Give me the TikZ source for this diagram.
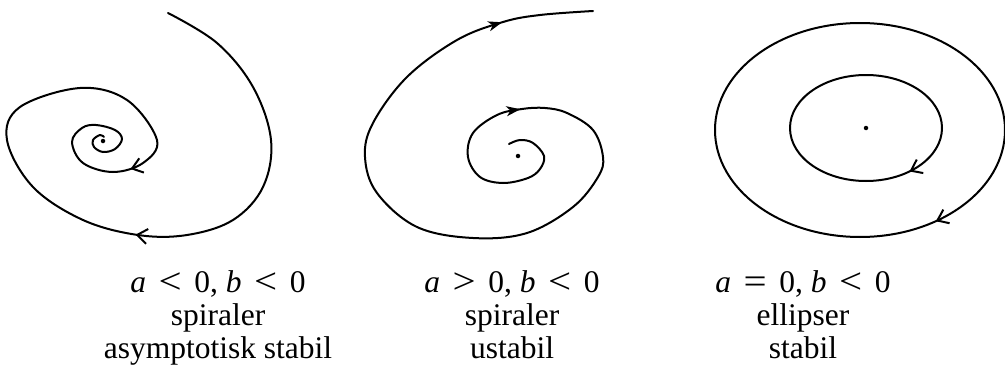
\documentclass[tikz,border=0pt]{standalone}
\usepackage{fontspec}
\setmainfont{Liberation Serif}
\usetikzlibrary{arrows.meta,decorations.markings}
\tikzset{
  orbit/.style={line width=2pt, line cap=round, line join=round},
  dotnode/.style={circle, fill, inner sep=0pt, minimum size=4.5pt},
  caption/.style={align=center, anchor=north, inner sep=0pt, font=\fontsize{31.5}{33}\selectfont},
  barb/.tip={Straight Barb[length=10pt,width=15pt]},
  solid tip/.tip={Stealth[length=14pt,width=10pt,inset=4pt]},
  twomarks/.style n args={3}{postaction={decorate}, decoration={markings,
      mark=at position #1 with {\arrow{#3}},
      mark=at position #2 with {\arrow{#3}}}},
  onemark/.style 2 args={postaction={decorate}, decoration={markings,
      mark=at position #1 with {\arrow{#2}}}}
}
\newcommand{\relsym}[1]{\hspace{.4em}\raisebox{-.03em}{\scalebox{1.3}[1.15]{#1}}\hspace{.4em}}
\newcommand{\cond}[2]{\textit{a}\relsym{#1}0, \textit{b}\relsym{#2}0}

\begin{document}
\begin{tikzpicture}[x=1pt, y=-1pt]
  \useasboundingbox (0,0) rectangle (1005,372);
  \node[dotnode] (o1) at (103,141) {};
  \node[dotnode] (o2) at (518,156) {};
  \node[dotnode] (o3) at (866,128) {};
  \draw[orbit, twomarks={.375}{.8}{barb}] plot[smooth, tension=.6] coordinates {
    (168,13) (217,43) (253,87) (271,140) (263,187) (233,220) (187,235) (138,235)
    (83,220) (33,187) (7,140) (20,107) (80,88) (127,100) (157,140) (143,163)
    (113,172) (83,163) (72,142) (82,128) (96,125) (115,130) (122,139) (115,149)
    (103,152) (94,147) (93,140) (100,135) (104,137)};
  \draw[orbit, twomarks={.238}{.903}{solid tip}] plot[smooth, tension=.6] coordinates {
    (509,144) (520,140) (533,143) (544,156) (540,169) (528,178) (503,183) (480,177)
    (468,157) (473,133) (497,115) (522,109) (545,108) (567,113) (593,130) (603,157)
    (598,177) (573,207) (527,233) (473,238) (417,227) (377,193) (365,157) (373,123)
    (407,77) (457,40) (503,22) (540,15) (593,11)};
  \draw[orbit, onemark={.14}{barb}] (o3.center) ellipse [x radius=76, y radius=53];
  \draw[orbit, onemark={.152}{barb}] (860,130) ellipse [x radius=145, y radius=107];
  \node[caption] (t1) at (218,270) {\cond{<}{<}\\ spiraler\\ asymptotisk stabil};
  \node[caption] (t2) at (512,270) {\cond{>}{<}\\ spiraler\\ ustabil};
  \node[caption] (t3) at (803,270) {\cond{=}{<}\\ ellipser\\ stabil};
\end{tikzpicture}
\end{document}
